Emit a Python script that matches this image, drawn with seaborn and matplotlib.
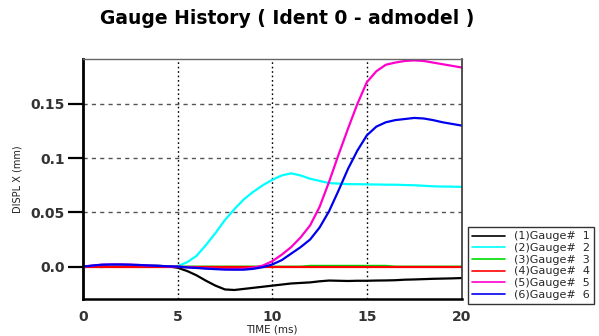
import numpy as np
import pandas as pd
import matplotlib
matplotlib.use("Agg")
import matplotlib.pyplot as plt
import seaborn as sns
from matplotlib.lines import Line2D

time_ms = [0, 0.5, 1, 1.5, 2, 2.5, 3, 3.5, 4, 4.5, 5, 5.5, 6, 6.5, 7, 7.5, 8, 8.5, 9, 9.5,
           10, 10.5, 11, 11.5, 12, 12.5, 13, 13.5, 14, 14.5, 15, 15.5, 16, 16.5, 17, 17.5,
           18, 18.5, 19, 19.5, 20]

gauge1 = [0, 0.0005, 0.001, 0.0015, 0.0015, 0.0015, 0.0012, 0.001, 0.0007, 0.0003, -0.001,
          -0.004, -0.008, -0.013, -0.0175, -0.021, -0.0215, -0.0205, -0.0195, -0.0185,
          -0.0175, -0.0165, -0.0155, -0.015, -0.0145, -0.0135, -0.0128, -0.013, -0.0132,
          -0.013, -0.013, -0.0128, -0.0127, -0.0125, -0.012, -0.0118, -0.0115, -0.0112,
          -0.011, -0.0108, -0.0105]
gauge2 = [0, 0.0005, -0.0005, 0.001, 0.0015, 0.0015, 0.0012, 0.001, 0.0007, 0.0003, 0.0005,
          0.004, 0.010, 0.020, 0.031, 0.043, 0.053, 0.062, 0.069, 0.075,
          0.080, 0.084, 0.086, 0.084, 0.081, 0.079, 0.077, 0.0765, 0.076, 0.076,
          0.0758, 0.0757, 0.0755, 0.0755, 0.0752, 0.075, 0.0745, 0.074, 0.0738, 0.0737, 0.0735]
gauge3 = [0, 0, 0, 0, 0, 0, 0, 0, 0, 0, 0, 0, 0, 0, 0, 0, 0, 0, 0, 0,
          0, 0, 0, 0, 0.0007, 0.0007, 0.0007, 0.0007, 0.0007, 0.0007, 0.0007, 0.0007, 0.0007,
          0, 0, 0, 0, 0, 0, 0, 0]
gauge4 = [0.0] * 41
gauge5 = [0, 0.001, 0.0018, 0.002, 0.002, 0.0018, 0.0015, 0.001, 0.0007, 0.0003, 0,
          -0.0005, -0.001, -0.0015, -0.002, -0.0022, -0.0022, -0.002, -0.001, 0.001,
          0.005, 0.011, 0.018, 0.027, 0.038, 0.055, 0.078, 0.103, 0.127, 0.150,
          0.170, 0.180, 0.186, 0.188, 0.1895, 0.190, 0.1895, 0.188, 0.1865, 0.185, 0.1835]
gauge6 = [0, 0.001, 0.0018, 0.002, 0.002, 0.0018, 0.0015, 0.001, 0.0007, 0.0003, 0,
          -0.0007, -0.0012, -0.0018, -0.0023, -0.0027, -0.0028, -0.0028, -0.002, -0.0005,
          0.002, 0.006, 0.012, 0.018, 0.025, 0.036, 0.051, 0.070, 0.090, 0.107,
          0.121, 0.129, 0.133, 0.135, 0.136, 0.137, 0.1365, 0.135, 0.133, 0.1315, 0.130]

labels = ["(1)Gauge#  1", "(2)Gauge#  2", "(3)Gauge#  3",
          "(4)Gauge#  4", "(5)Gauge#  5", "(6)Gauge#  6"]
colors = ["#000000", "#00ffff", "#00dd00", "#ff0000", "#ff00cc", "#0000ee"]
series = [gauge1, gauge2, gauge3, gauge4, gauge5, gauge6]

xticks = [0, 5, 10, 15, 20]
xticklabels = ["0", "5", "10", "15", "20"]
yticks = [0.0, 0.05, 0.1, 0.15]
yticklabels = ["0.0", "0.05", "0.1", "0.15"]

df = pd.DataFrame({
    "time": np.tile(time_ms, len(series)),
    "value": np.concatenate([np.asarray(s, float) for s in series]),
    "gauge": np.repeat(labels, len(time_ms)),
})

sns.set_theme(style="white")
plt.rcParams["font.family"] = ["DejaVu Sans"]

fig = plt.figure(figsize=(5.99, 3.36), dpi=100)
ax = fig.add_axes([83 / 599, 1 - 299 / 336, (461.5 - 83) / 599, (299 - 59) / 336])

sns.lineplot(data=df, x="time", y="value", hue="gauge", hue_order=labels,
             palette=colors, linewidth=1.6, ax=ax, legend=False, sort=False)

ax.set_xlim(0, 20)
ax.set_ylim(-0.0298, 0.1913)

for xv in [5, 10, 15]:
    ax.axvline(xv, color="black", linestyle=(0, (1.2, 2)), linewidth=1.0, zorder=0)
for yv in [0.05, 0.1, 0.15]:
    ax.axhline(yv, color="#555555", linestyle=(0, (3, 3)), linewidth=1.0, zorder=0)

ax.set_xticks(xticks)
ax.set_xticklabels(xticklabels, fontsize=10, fontweight="bold", color="#333333")
ax.set_yticks(yticks)
ax.set_yticklabels(yticklabels, fontsize=10, fontweight="bold", color="#333333")
ax.tick_params(axis="y", direction="out", length=11, width=1.6, color="black", pad=2, left=True)
ax.tick_params(axis="x", direction="out", length=0, pad=8, bottom=True)
ax.set_xticks([0, 20], minor=True)
ax.tick_params(axis="x", which="minor", direction="out", length=5, width=1.8, color="black", bottom=True)

ax.spines["left"].set_linewidth(2.0)
ax.spines["left"].set_color("black")
ax.spines["bottom"].set_linewidth(1.8)
ax.spines["bottom"].set_color("black")
ax.spines["top"].set_linewidth(1.0)
ax.spines["top"].set_color("#666666")
ax.spines["right"].set_linewidth(1.2)
ax.spines["right"].set_color("#333333")

ax.set_xlabel("TIME (ms)", fontsize=7.5, labelpad=0, color="#222222")
ax.set_ylabel("DISPL X (mm)", fontsize=7, labelpad=6, color="#222222")

fig.text(287 / 599, 1 - 18 / 336, "Gauge History ( Ident 0 - admodel )",
         ha="center", va="center", fontsize=13.5, fontweight="bold", color="black")

handles = [Line2D([0], [0], color=c, linewidth=1.2) for c in colors]
leg = fig.legend(handles, labels, loc="upper left",
                 bbox_to_anchor=(468 / 599, 1 - 227 / 336),
                 fontsize=8, frameon=True, fancybox=False, borderpad=0.4,
                 labelspacing=0.15, handlelength=2.9, handletextpad=0.8,
                 borderaxespad=0)
leg.get_frame().set_edgecolor("black")
leg.get_frame().set_linewidth(1.0)

fig.savefig("out.png", dpi=100)
